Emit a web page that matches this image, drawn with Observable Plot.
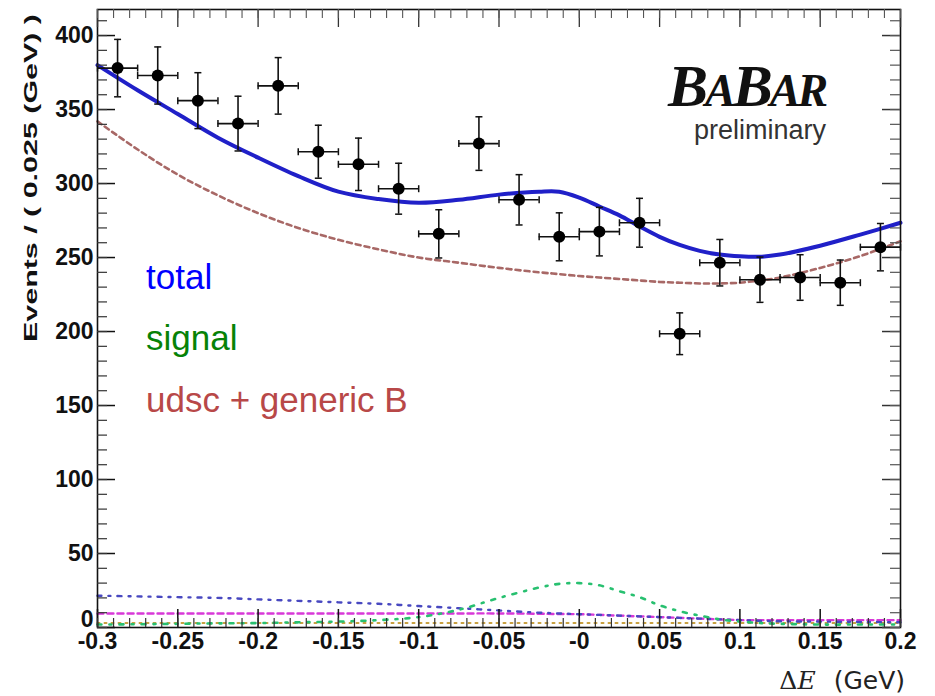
<!DOCTYPE html>
<html><head><meta charset="utf-8">
<script src="https://cdn.jsdelivr.net/npm/d3@7"></script>
<script src="https://cdn.jsdelivr.net/npm/@observablehq/plot@0.6"></script>
<style>
body{margin:0;background:#fff}
#chart{position:relative;width:935px;height:696px}
</style>
</head><body><div id="chart"></div>
<script>
// ---- data ----
const binCenters = [-0.2875,-0.2625,-0.2375,-0.2125,-0.1875,-0.1625,-0.1375,-0.1125,-0.0875,-0.0625,
                    -0.0375,-0.0125,0.0125,0.0375,0.0625,0.0875,0.1125,0.1375,0.1625,0.1875];
const binHalfWidth = 0.0125;
const events = [378,373,356,340.5,366,321.5,313,296.5,266,327,289,264,267.5,273.5,198.5,246.5,235,236.5,233,257];
const errors = [19.4,19.3,18.9,18.5,19.1,17.9,17.7,17.2,16.3,18.1,17,16.2,16.4,16.5,14.1,15.7,15.3,15.4,15.3,16];

const curveX = [-0.3,-0.275,-0.25,-0.225,-0.2,-0.175,-0.15,-0.125,-0.1,-0.075,-0.05,-0.025,-0.0125,0,
                0.0125,0.025,0.0375,0.05,0.0625,0.075,0.0875,0.1,0.1125,0.125,0.15,0.175,0.2];
const totalFit = [380,363,347,331,317.5,305,294.5,289.5,287,289,292.5,294.5,294.5,290.5,
                  284.5,278.5,271,264,258.5,254.5,252,250.8,250.5,252,258,265.5,273.5];
const bkgFit   = [342,323,306,292,280,270,262,255.5,250,246.5,243,240,238.8,237.5,
                  236.5,235.5,234.5,233.5,233,232.5,232.5,233,234.5,236.5,243,251,261];
const signalFit = [2,2.2,2.5,2.8,3,3.5,4,5,7,12,20,27,29.5,30,
                   28.5,24.5,20.5,15,11,8,5.5,4,3,2.5,2,2,2];
const peakingFit = [21.5,21,20.5,20,19,18,17,16,14.5,13,11.5,10,9.5,9,
                    8.5,8,7.5,7,6.5,6,5.5,5,4.5,4.2,4,3.8,3.5];
const otherFit = [9.5,9.5,9.5,9.5,9.5,9.5,9.5,9.5,9.5,9.5,9.5,9.3,9.1,9,
                  8.5,8,7.5,7,6.5,6,5.5,5,5,5,5,5,5];
const floorFit = [3,3,3,3,3,3,3,3,3,3,3,3,3,3,3,3,3,3,3,3,3,3,3,3,3,3,3];

const xTickValues = [-0.3,-0.25,-0.2,-0.15,-0.1,-0.05,0,0.05,0.1,0.15,0.2];
const xTickLabels = ["-0.3","-0.25","-0.2","-0.15","-0.1","-0.05","-0","0.05","0.1","0.15","0.2"];
const yTickValues = [0,50,100,150,200,250,300,350,400];
const yTickLabels = ["0","50","100","150","200","250","300","350","400"];
const legendLabels = ["total","signal","udsc + generic B"];
const yTitle = "Events / ( 0.025 (GeV) )";

// ---- layout ----
const W = 935, H = 696, mL = 97, mR = 35, mT = 9, mB = 69;
const fw = W - mL - mR, fh = H - mT - mB;
const xMinor = d3.range(0, 51).map(i => +(-0.3 + i * 0.01).toFixed(3));
const yMinor = d3.range(0, 42).map(i => i * 10);

const pts = binCenters.map((x, i) => ({x, y: events[i], e: errors[i]}));
const series = arr => curveX.map((x, i) => ({x, y: arr[i]}));

const hcap = {draw(ctx, size) {const r = Math.sqrt(size / Math.PI); ctx.moveTo(-r, 0); ctx.lineTo(r, 0);}};
const vcap = {draw(ctx, size) {const r = Math.sqrt(size / Math.PI); ctx.moveTo(0, -r); ctx.lineTo(0, r);}};

const tickFont = {fontSize: 23, fontWeight: "bold", fontFamily: "Liberation Sans, Arial, sans-serif", fill: "#111"};

const chart = Plot.plot({
  width: W, height: H,
  marginLeft: mL, marginRight: mR, marginTop: mT, marginBottom: mB,
  x: {domain: [-0.3, 0.2], axis: null},
  y: {domain: [0, 417.6], axis: null},
  style: {background: "white", fontFamily: "Liberation Sans, Arial, sans-serif", overflow: "visible"},
  marks: [
    Plot.line(series(floorFit), {x: "x", y: "y", stroke: "#c8a040", strokeWidth: 2, strokeDasharray: "2,5"}),
    Plot.line(series(otherFit), {x: "x", y: "y", stroke: "#d838d8", strokeWidth: 2.4, strokeDasharray: "6,4", curve: "catmull-rom"}),
    Plot.line(series(peakingFit), {x: "x", y: "y", stroke: "#4848c0", strokeWidth: 2.4, strokeDasharray: "4,7,2,7", curve: "catmull-rom"}),
    Plot.line(series(signalFit), {x: "x", y: "y", stroke: "#28c070", strokeWidth: 2.6, strokeDasharray: "4,8,2,8", curve: "catmull-rom"}),
    Plot.line(series(bkgFit), {x: "x", y: "y", stroke: "#a86866", strokeWidth: 2.6, strokeDasharray: "5,4", curve: "catmull-rom"}),
    Plot.line(series(totalFit), {x: "x", y: "y", stroke: "#2020c8", strokeWidth: 4, curve: "catmull-rom"}),
    // error bars
    Plot.ruleX(pts, {x: "x", y1: d => d.y - d.e, y2: d => d.y + d.e, stroke: "#111", strokeWidth: 1.6}),
    Plot.ruleY(pts, {y: "y", x1: d => d.x - binHalfWidth, x2: d => d.x + binHalfWidth, stroke: "#111", strokeWidth: 1.6}),
    Plot.dot(pts, {x: "x", y: d => d.y - d.e, symbol: hcap, r: 3.5, stroke: "#111", strokeWidth: 1.5}),
    Plot.dot(pts, {x: "x", y: d => d.y + d.e, symbol: hcap, r: 3.5, stroke: "#111", strokeWidth: 1.5}),
    Plot.dot(pts, {x: d => d.x - binHalfWidth, y: "y", symbol: vcap, r: 3.5, stroke: "#111", strokeWidth: 1.5}),
    Plot.dot(pts, {x: d => d.x + binHalfWidth, y: "y", symbol: vcap, r: 3.5, stroke: "#111", strokeWidth: 1.5}),
    Plot.dot(pts, {x: "x", y: "y", r: 6, fill: "black"}),
    // frame and inward ticks on all sides
    Plot.frame({stroke: "#111", strokeWidth: 1.6}),
    Plot.tickX(xTickValues, {x: d => d, insetTop: fh - 18, stroke: "#111", strokeWidth: 1.5}),
    Plot.tickX(xMinor, {x: d => d, insetTop: fh - 9, stroke: "#333", strokeWidth: 1.2}),
    Plot.tickX(xTickValues, {x: d => d, insetBottom: fh - 18, stroke: "#333", strokeWidth: 1.3}),
    Plot.tickX(xMinor, {x: d => d, insetBottom: fh - 9, stroke: "#555", strokeWidth: 1.1}),
    Plot.tickY(yTickValues, {y: d => d, insetRight: fw - 18, stroke: "#111", strokeWidth: 1.5}),
    Plot.tickY(yMinor, {y: d => d, insetRight: fw - 10, stroke: "#333", strokeWidth: 1.2}),
    Plot.tickY(yTickValues, {y: d => d, insetLeft: fw - 18, stroke: "#333", strokeWidth: 1.5}),
    Plot.tickY(yMinor, {y: d => d, insetLeft: fw - 10, stroke: "#555", strokeWidth: 1.2}),
    // tick labels
    Plot.text(xTickValues, {x: d => d, text: (d, i) => xTickLabels[i], frameAnchor: "bottom", dy: 21, ...tickFont}),
    Plot.text(yTickValues.slice(1), {y: d => d, text: (d, i) => yTickLabels[i + 1], frameAnchor: "left", dx: -4, textAnchor: "end", ...tickFont}),
    Plot.text(yTickValues.slice(0, 1), {y: d => d, text: (d, i) => yTickLabels[i], frameAnchor: "left", dx: -4, dy: -8, textAnchor: "end", ...tickFont})
  ]
});
document.getElementById("chart").appendChild(chart);

// ---- annotations: y title, legend, logo, x title ----
const svg = d3.select(chart);
svg.append("text").attr("transform", "translate(37,178) rotate(-90)").attr("text-anchor", "middle")
  .attr("font-family", "Liberation Sans, Arial, sans-serif").attr("font-weight", "bold").attr("font-size", 19)
  .attr("fill", "#111").attr("textLength", 328).attr("lengthAdjust", "spacingAndGlyphs").text(yTitle);

const legendColors = ["#0000ff", "#078207", "#b84848"];
const legendBaselines = [289, 350, 412];
legendLabels.forEach((t, i) => {
  svg.append("text").attr("x", 146).attr("y", legendBaselines[i]).attr("text-anchor", "start")
    .attr("font-family", "Liberation Sans, Arial, sans-serif").attr("font-size", 35)
    .attr("fill", legendColors[i]).text(t);
});

const logo = svg.append("text").attr("x", 668).attr("y", 106).attr("text-anchor", "start")
  .attr("font-family", "Liberation Serif, Times New Roman, serif")
  .attr("font-style", "italic").attr("font-weight", "bold").attr("fill", "#111")
  .attr("letter-spacing", -3);
[["B", 60], ["A", 46], ["B", 60], ["AR", 46]].forEach(([t, s]) => logo.append("tspan").attr("font-size", s).text(t));
svg.append("text").attr("x", 826).attr("y", 139).attr("text-anchor", "end")
  .attr("font-family", "Liberation Sans, Arial, sans-serif").attr("font-size", 27).attr("fill", "#333")
  .text("preliminary");

const xt = svg.append("text").attr("x", 905).attr("y", 689).attr("text-anchor", "end").attr("fill", "#222");
xt.append("tspan").attr("font-family", "DejaVu Serif, serif").attr("font-size", 25).text("Δ");
xt.append("tspan").attr("font-family", "DejaVu Serif, serif").attr("font-style", "italic").attr("font-size", 25).text("E");
xt.append("tspan").attr("dx", 18).attr("font-family", "DejaVu Sans, sans-serif").attr("font-size", 25).text("(GeV)");
</script>
</body></html>
